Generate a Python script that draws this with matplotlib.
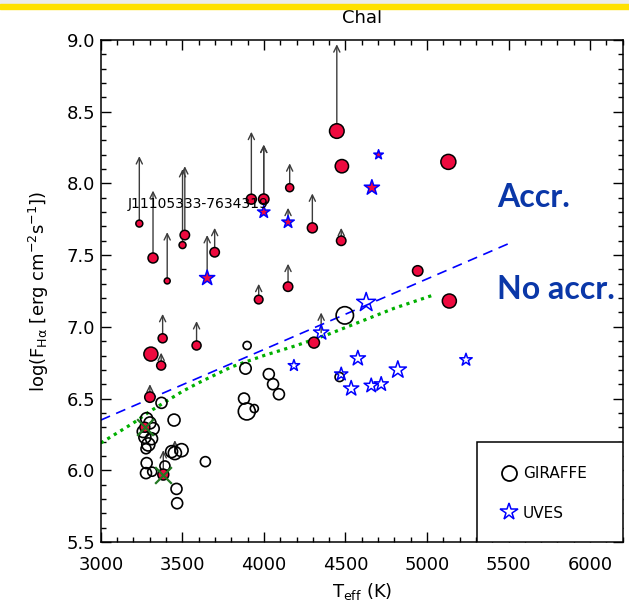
import numpy as np
import matplotlib.pyplot as plt
from matplotlib.lines import Line2D
from matplotlib.patches import Rectangle
from matplotlib.ticker import MultipleLocator, FormatStrFormatter

plt.rcParams['font.family'] = ['DejaVu Sans']
plt.rcParams['mathtext.default'] = 'regular'

# accretors observed with GIRAFFE (filled circles); *_top = end of lower-limit arrow
acc_teff = np.array([4447, 4478, 4158, 3923, 3999, 3236, 3320, 3407, 3515, 3501,
                     3698, 3968, 4148, 4297, 4474, 5131, 4943, 5137, 3379, 3307,
                     3370, 3587, 3301, 4307, 3270, 3383])
acc_logf = np.array([8.365, 8.12, 7.97, 7.89, 7.89, 7.72, 7.48, 7.32, 7.64, 7.57,
                     7.52, 7.19, 7.28, 7.69, 7.60, 8.15, 7.39, 7.18, 6.92, 6.81,
                     6.73, 6.87, 6.51, 6.89, 6.30, 5.97])
acc_top = np.array([8.97, np.nan, 8.14, 8.36, 8.27, 8.19, 7.95, 7.66, 8.12, 8.10,
                    7.69, 7.30, 7.44, 7.93, 7.69, np.nan, np.nan, np.nan, 7.09, np.nan,
                    6.82, 7.04, 6.60, np.nan, np.nan, 6.14])
acc_ms = np.array([10.5, 9.6, 5.8, 7.2, 7.5, 5.0, 7.2, 4.3, 6.8, 5.0,
                   6.8, 6.2, 6.8, 7.2, 6.8, 10.8, 7.5, 10.1, 6.5, 10.1,
                   6.5, 6.5, 7.5, 7.9, 7.2, 7.9])

# accretors observed with UVES (filled stars)
uacc_teff = np.array([3999, 4148, 3652, 4703, 4662])
uacc_logf = np.array([7.80, 7.73, 7.34, 8.20, 7.97])
uacc_top = np.array([8.27, 7.83, 7.64, np.nan, np.nan])
uacc_ms = np.array([9.4, 9.4, 11.5, 7.2, 11.5])

# flagged objects (crossed)
flag_teff = np.array([3270, 3383])
flag_logf = np.array([6.30, 5.97])

# non-accretors, GIRAFFE
gir_teff = np.array([3897, 3887, 4030, 4056, 4092, 3878, 3895, 3941, 3372, 3449,
                     4496, 4464, 3281, 3301, 3260, 3321, 3270, 3311, 3291, 3277,
                     3454, 3434, 3495, 3641, 3281, 3277, 3315, 3464, 3468, 3393])
gir_logf = np.array([6.87, 6.71, 6.67, 6.60, 6.53, 6.50, 6.41, 6.43, 6.47, 6.35,
                     7.08, 6.65, 6.36, 6.33, 6.27, 6.29, 6.23, 6.22, 6.18, 6.15,
                     6.12, 6.13, 6.14, 6.06, 6.05, 5.98, 5.99, 5.87, 5.77, 6.03])
gir_top = np.full(gir_teff.size, np.nan)
gir_top[20] = 6.21
gir_ms = np.array([5.8, 8.2, 7.9, 7.9, 7.9, 7.9, 12.2, 5.8, 7.9, 8.6,
                   12.5, 6.5, 8.6, 8.6, 8.6, 8.6, 8.6, 8.6, 9.4, 7.2,
                   9.4, 8.6, 9.4, 7.2, 7.9, 7.9, 6.5, 7.9, 7.9, 7.2])

# non-accretors, UVES
uves_teff = np.array([4627, 4351, 4184, 4576, 4821, 4474, 4535, 4658, 4719, 5239])
uves_logf = np.array([7.17, 6.96, 6.73, 6.78, 6.70, 6.67, 6.57, 6.59, 6.60, 6.77])
uves_top = np.array([np.nan, 7.10, np.nan, np.nan, np.nan, np.nan, np.nan, np.nan, np.nan, np.nan])
uves_ms = np.array([14.4, 11.5, 8.6, 11.5, 13.0, 10.0, 11.5, 10.8, 10.8, 9.4])

# accretion threshold and chromospheric noise level
thr_teff = [3000, 5500]
thr_logf = [6.35, 7.58]
noise_teff = [3000, 3100, 3200, 3300, 3400, 3500, 3600, 3800, 4000, 4200,
              4400, 4600, 4800, 5035]
noise_logf = [6.19, 6.26, 6.33, 6.41, 6.48, 6.55, 6.61, 6.72, 6.80, 6.87,
              6.95, 7.04, 7.13, 7.22]

RED = '#EE0A3F'

fig = plt.figure(figsize=(6.29, 6.14), dpi=100)
fig.patches.append(Rectangle((0, 1 - 4 / 614), 1, 4 / 614, transform=fig.transFigure,
                             color='#ececec', zorder=0))
fig.patches.append(Rectangle((0, 1 - 9 / 614), 1, 5 / 614, transform=fig.transFigure,
                             color='#FFE100', zorder=0))
ax = fig.add_axes([0.1603, 0.1173, 0.8297, 0.8176])


def arrows(teff, logf, top, color='#3c3c3c'):
    for x, y, t in zip(teff, logf, top):
        if np.isnan(t):
            continue
        ax.annotate('', xy=(x, t), xytext=(x, y),
                    arrowprops=dict(arrowstyle='->,head_length=0.45,head_width=0.22',
                                    color=color, lw=1.0, shrinkA=0, shrinkB=0,
                                    mutation_scale=10), zorder=3)


arrows(acc_teff, acc_logf, acc_top)
arrows(uacc_teff, uacc_logf, uacc_top)
arrows(gir_teff, gir_logf, gir_top)
arrows(uves_teff, uves_logf, uves_top)

ax.plot(thr_teff, thr_logf, color='#0000FF', lw=1.2, dashes=(6, 4), zorder=2)
ax.plot(noise_teff, noise_logf, color='#00B000', lw=2.3, dashes=(1, 1.4), zorder=2)

ax.scatter(gir_teff, gir_logf, s=gir_ms ** 2, facecolors='none', edgecolors='black',
           linewidths=1.2, zorder=4)
ax.scatter(uves_teff, uves_logf, s=uves_ms ** 2, marker='*', facecolors='none',
           edgecolors='#0000FF', linewidths=1.1, zorder=4)
ax.scatter(acc_teff, acc_logf, s=acc_ms ** 2, facecolors=RED, edgecolors='black',
           linewidths=1.1, zorder=5)
ax.scatter(uacc_teff, uacc_logf, s=uacc_ms ** 2, marker='*', facecolors=RED,
           edgecolors='#0000FF', linewidths=1.1, zorder=5)
ax.scatter(flag_teff, flag_logf, s=12 ** 2, marker='x', color='#237823',
           linewidths=1.6, zorder=6)

ax.text(3166, 7.856, 'J11105333-7634319', fontsize=10, va='center', ha='left', zorder=6)
ax.text(5431, 7.905, 'Accr.', fontsize=23, fontfamily='Lato', fontweight='bold',
        color='#0A37A8', va='center', ha='left')
ax.text(5431, 7.257, 'No accr.', fontsize=23, fontfamily='Lato', fontweight='bold',
        color='#0A37A8', va='center', ha='left')

ax.set_xlim(3000, 6200)
ax.set_ylim(5.5, 9.0)
ax.xaxis.set_major_locator(MultipleLocator(500))
ax.xaxis.set_minor_locator(MultipleLocator(100))
ax.yaxis.set_major_locator(MultipleLocator(0.5))
ax.yaxis.set_minor_locator(MultipleLocator(0.1))
ax.yaxis.set_major_formatter(FormatStrFormatter('%.1f'))
ax.tick_params(which='both', direction='in', top=True, right=True, width=1.0,
               labelsize=13)
ax.tick_params(which='major', length=7)
ax.tick_params(which='minor', length=3.5)
ax.tick_params(axis='x', pad=10)
ax.tick_params(axis='y', pad=4)
for sp in ax.spines.values():
    sp.set_linewidth(1.1)

ax.set_title('Chal', fontsize=13, pad=12)
ax.set_xlabel('T$_{eff}$ (K)', fontsize=13, labelpad=5)
ax.set_ylabel(r'log(F$_{H\alpha}$ [erg cm$^{-2}$s$^{-1}$])', fontsize=13, labelpad=11)

# legend box sits in the lower-right corner
ax.add_patch(Rectangle((0.721, 0.0), 0.279, 0.199, transform=ax.transAxes,
                       facecolor='white', edgecolor='black', lw=1.1, zorder=7))
handles = [Line2D([], [], ls='none', marker='o', ms=10.8, mfc='none', mec='black', mew=1.3),
           Line2D([], [], ls='none', marker='*', ms=13, mfc='none', mec='#0000FF', mew=1.1)]
leg = ax.legend(handles, ['GIRAFFE', 'UVES'], loc='center left',
                bbox_to_anchor=(0.752, 0.097), frameon=False, fontsize=11,
                handlelength=1.0, handletextpad=0.45, labelspacing=1.6, borderpad=0)
leg.set_zorder(8)

fig.savefig('out.png', dpi=100)
